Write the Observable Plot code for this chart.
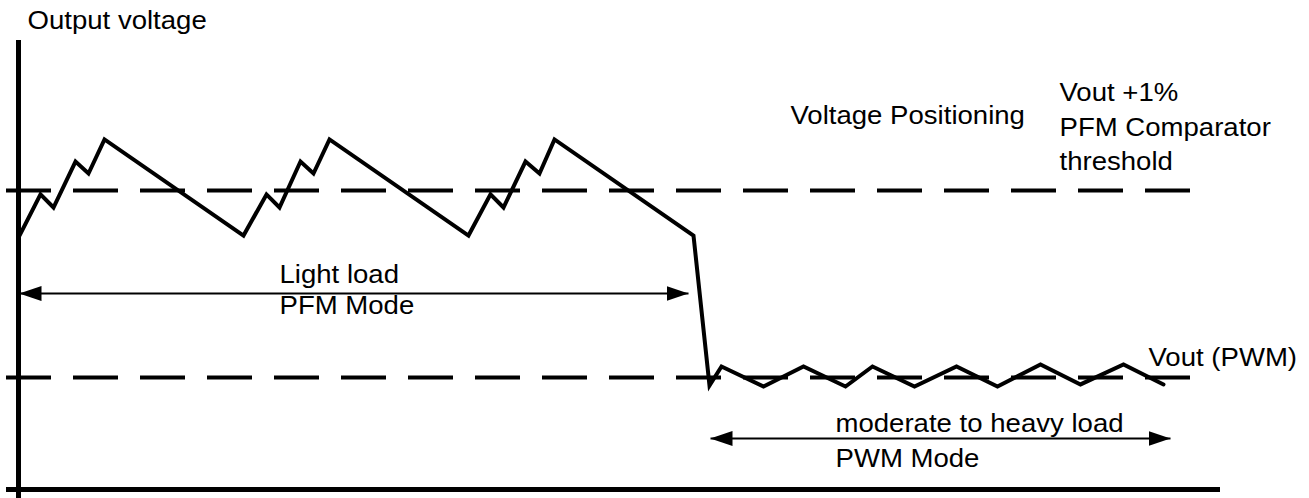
<!DOCTYPE html>
<html>
<head>
<meta charset="utf-8">
<script src="https://cdn.jsdelivr.net/npm/d3@7"></script>
<script src="https://cdn.jsdelivr.net/npm/@observablehq/plot@0.6"></script>
<style>
  html, body { margin: 0; padding: 0; background: #fff; }
  #chart svg { display: block; }
</style>
</head>
<body>
<div id="chart"></div>
<script>
// Time axis in arbitrary units; voltage in units where Vout(PWM) = 0 and Vout+1% threshold = 1
const waveT = [1.9, 4.0, 5.3, 7.5, 8.8, 10.4,
               24.3, 26.6, 27.9, 30.0, 31.3, 32.9,
               46.8, 49.0, 50.3, 52.5, 53.9, 55.4,
               69.3, 70.9, 72.1, 76.3, 80.3, 84.5, 87.2, 91.4, 95.6, 99.7, 104.0, 108.0, 112.3, 116.3];
const waveV = [0.759, 0.979, 0.909, 1.155, 1.091, 1.273,
               0.759, 0.979, 0.909, 1.155, 1.091, 1.273,
               0.759, 0.979, 0.909, 1.155, 1.091, 1.273,
               0.759, -0.043, 0.059, -0.048, 0.059, -0.048, 0.059, -0.048, 0.059, -0.048, 0.070, -0.037, 0.070, -0.037];

// Reference levels (dashed): PFM comparator threshold and Vout (PWM)
const levelNames = ["Vout +1%", "Vout (PWM)"];
const levelV = [1, 0];
const levelStart = 0.6, levelEnd = 119.0;

// Axes
const axisXT = [0.6, 122.0];
const axisXV = -0.599;
const axisYT = 1.8;
const axisYV = [-0.647, 1.802];

// Double-headed range arrows
const arrowNames = ["Light load PFM Mode", "moderate to heavy load PWM Mode"];
const arrowT1 = [1.9, 71.0];
const arrowT2 = [68.8, 117.0];
const arrowV = [0.449, -0.326];

// Labels
const labelText = ["Output voltage", "Voltage Positioning", "Vout +1%", "PFM Comparator", "threshold",
                   "Light load", "PFM Mode", "Vout (PWM)", "moderate to heavy load", "PWM Mode"];
const labelT = [2.7, 79.0, 105.9, 105.9, 105.9, 27.9, 27.9, 114.8, 83.5, 83.5];
const labelV = [1.861, 1.358, 1.476, 1.294, 1.112, 0.508, 0.337, 0.064, -0.294, -0.481];

const wave = waveT.map((t, i) => ({t, v: waveV[i]}));
const levels = levelV.map((v, i) => ({name: levelNames[i], v, t1: levelStart, t2: levelEnd}));
const arrows = arrowT1.map((t1, i) => ({name: arrowNames[i], t1, t2: arrowT2[i], v: arrowV[i]}));
const labels = labelText.map((text, i) => ({text, t: labelT[i], v: labelV[i]}));

const chart = Plot.plot({
  width: 1309,
  height: 498,
  margin: 0,
  x: {domain: [0, 130.9], axis: null},
  y: {domain: [-0.647, 2.016], axis: null},
  style: {fontFamily: "'Liberation Sans', Arial, sans-serif", background: "white", color: "black"},
  marks: [
    Plot.ruleY(levels, {y: "v", x1: "t1", x2: "t2", stroke: "black", strokeWidth: 4, strokeDasharray: "45,22"}),
    Plot.ruleX([axisYT], {x: d => d, y1: axisYV[0], y2: axisYV[1], stroke: "black", strokeWidth: 5}),
    Plot.ruleY([axisXV], {y: d => d, x1: axisXT[0], x2: axisXT[1], stroke: "black", strokeWidth: 5}),
    Plot.line(wave, {x: "t", y: "v", stroke: "black", strokeWidth: 4, strokeLinejoin: "miter", strokeMiterlimit: 10}),
    Plot.link(arrows, {x1: "t1", x2: "t2", y1: "v", y2: "v", stroke: "black", strokeWidth: 2}),
    Plot.text(labels, {x: "t", y: "v", text: "text", textAnchor: "start", lineAnchor: "bottom", fontSize: 26, fill: "black"})
  ]
});

document.getElementById("chart").append(chart);

// Filled arrowheads on the range arrows
const svg = d3.select(chart);
const defs = svg.insert("defs", ":first-child");
defs.append("marker")
  .attr("id", "ahead")
  .attr("viewBox", "0 0 22 15")
  .attr("refX", 22).attr("refY", 7.5)
  .attr("markerWidth", 22).attr("markerHeight", 15)
  .attr("markerUnits", "userSpaceOnUse")
  .attr("orient", "auto-start-reverse")
  .append("path").attr("d", "M0,0L22,7.5L0,15Z").attr("fill", "black");
svg.selectAll('g[aria-label="link"] path')
  .attr("marker-start", "url(#ahead)")
  .attr("marker-end", "url(#ahead)");

// Slightly wider lettering as in the reference
svg.selectAll('g[aria-label="text"] text').each(function () {
  const L = this.getComputedTextLength();
  this.setAttribute("textLength", L * 1.06);
  this.setAttribute("lengthAdjust", "spacingAndGlyphs");
});
</script>
</body>
</html>
